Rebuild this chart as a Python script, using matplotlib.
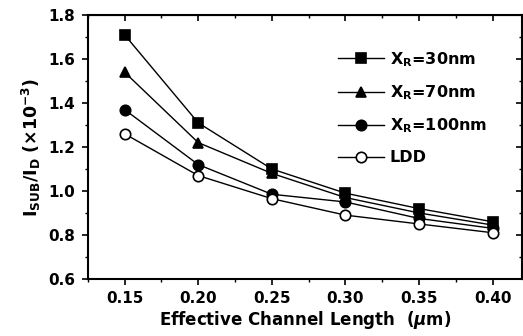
import matplotlib
matplotlib.use("Agg")
import matplotlib.pyplot as plt
from matplotlib.ticker import MultipleLocator

plt.rcParams['font.family'] = ['DejaVu Sans']
plt.rcParams['font.weight'] = 'bold'
plt.rcParams['mathtext.fontset'] = 'custom'
plt.rcParams['mathtext.rm'] = 'DejaVu Sans:bold'
plt.rcParams['mathtext.it'] = 'DejaVu Sans:italic:bold'
plt.rcParams['mathtext.bf'] = 'DejaVu Sans:bold'
plt.rcParams['mathtext.default'] = 'regular'

x = [0.15, 0.20, 0.25, 0.30, 0.35, 0.40]
xr30 = [1.71, 1.31, 1.10, 0.99, 0.92, 0.86]
xr70 = [1.54, 1.22, 1.08, 0.97, 0.90, 0.845]
xr100 = [1.37, 1.12, 0.985, 0.95, 0.875, 0.83]
ldd = [1.26, 1.07, 0.965, 0.89, 0.85, 0.81]
labels = ['$X_R$=30nm', '$X_R$=70nm', '$X_R$=100nm', 'LDD']
xticks = [0.15, 0.20, 0.25, 0.30, 0.35, 0.40]
yticks = [0.6, 0.8, 1.0, 1.2, 1.4, 1.6, 1.8]

fig = plt.figure(figsize=(5.23, 3.36), dpi=100)
ax = fig.add_axes([0.168, 0.170, 0.830, 0.785])

styles = [dict(marker='s', mfc='black'), dict(marker='^', mfc='black'),
          dict(marker='o', mfc='black'), dict(marker='o', mfc='white')]
handles = []
for ys, st, lab in zip([xr30, xr70, xr100, ldd], styles, labels):
    h, = ax.plot(x, ys, color='black', lw=1.0, ms=7.5, mec='black', mew=1.2,
                 label=lab, **st)
    handles.append(h)

ax.set_xlim(0.125, 0.42)
ax.set_ylim(0.6, 1.8)
ax.set_xticks(xticks)
ax.set_xticklabels(['%.2f' % v for v in xticks])
ax.set_yticks(yticks)
ax.set_yticklabels(['%.1f' % v for v in yticks])
ax.xaxis.set_minor_locator(MultipleLocator(0.025))
ax.yaxis.set_minor_locator(MultipleLocator(0.1))
ax.tick_params(which='major', direction='out', length=4, width=1.2, labelsize=11, pad=5)
ax.tick_params(which='minor', direction='out', length=2, width=1.0)
for s in ax.spines.values():
    s.set_linewidth(1.5)

sx = ax.secondary_xaxis('top')
sx.set_xticks(xticks)
sx.xaxis.set_minor_locator(MultipleLocator(0.025))
sx.tick_params(which='both', direction='in', labeltop=False)
sx.tick_params(which='major', length=4, width=1.2)
sx.tick_params(which='minor', length=2, width=1.0)
sy = ax.secondary_yaxis('right')
sy.set_yticks(yticks)
sy.yaxis.set_minor_locator(MultipleLocator(0.1))
sy.tick_params(which='both', direction='in', labelright=False)
sy.tick_params(which='major', length=4, width=1.2)
sy.tick_params(which='minor', length=2, width=1.0)

ax.set_xlabel('Effective Channel Length  ($\\mathit{\\mu}$m)', fontsize=12, fontweight='bold', labelpad=2)
ax.set_ylabel('$I_{SUB}/I_D$ ($\\times$10$^{-3}$)', fontsize=12.5, fontweight='bold', labelpad=4)

leg = ax.legend(handles=handles, loc='upper left', bbox_to_anchor=(0.576, 0.868),
                frameon=False, fontsize=11.5, handlelength=2.9, labelspacing=0.92,
                handletextpad=0.35, borderaxespad=0, borderpad=0)

fig.savefig('out.png', dpi=100)
